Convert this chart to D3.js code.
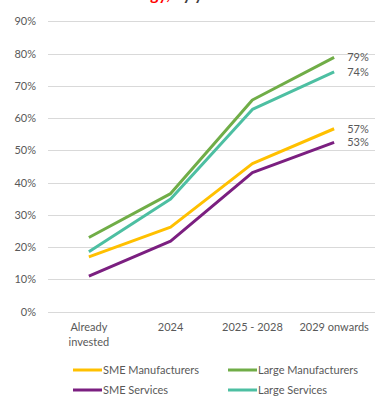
<!DOCTYPE html>
<html><head><meta charset="utf-8">
<script src="https://cdn.jsdelivr.net/npm/d3@7"></script>
<style>body{margin:0;background:#fff}svg{display:block}text{font-family:Lato,"Open Sans",sans-serif}</style>
</head><body><svg id="c" width="380" height="397"></svg>
<script>
const categories = ["Already\ninvested", "2024", "2025 - 2028", "2029 onwards"];
const yTicks = [0, 0.1, 0.2, 0.3, 0.4, 0.5, 0.6, 0.7, 0.8, 0.9];
const seriesNames = ["SME Manufacturers", "Large Manufacturers", "SME Services", "Large Services"];
const smeManufacturers = [0.17, 0.262, 0.459, 0.567];
const largeManufacturers = [0.23, 0.366, 0.656, 0.788];
const smeServices = [0.11, 0.219, 0.431, 0.525];
const largeServices = [0.186, 0.349, 0.627, 0.743];
const endLabels = ["57%", "79%", "53%", "74%"];
const colors = ["#FFC000", "#70AD47", "#7B1F80", "#4DBFA2"];
const seriesValues = [smeManufacturers, largeManufacturers, smeServices, largeServices];

const svg = d3.select("#c");
const x = d3.scaleBand().domain(categories).range([48, 375]);
const y = d3.scaleLinear().domain([0, 0.9]).range([311.7, 21.3]);

// clipped title (only descenders visible, as in the reference)
const t = svg.append("text").attr("x", 170).attr("y", -0.5).attr("font-size", 16).attr("font-weight", "bold");
t.append("tspan").attr("fill", "#FF0000").text("Technology,");
t.append("tspan").attr("fill", "#404040").text(" by year");
const redW = t.select("tspan").node().getComputedTextLength();
t.attr("x", 170 - redW);

// gridlines
svg.append("g").selectAll("line").data(yTicks).join("line")
  .attr("x1", 48).attr("x2", 375)
  .attr("y1", d => Math.round(y(d)) + 0.5).attr("y2", d => Math.round(y(d)) + 0.5)
  .attr("stroke", "#D9D9D9").attr("stroke-width", 1);

// y axis labels
const yAxis = svg.append("g").attr("transform", "translate(36,0)")
  .call(d3.axisLeft(y).tickValues(yTicks).tickFormat(d3.format(".0%")).tickSize(0).tickPadding(0));
yAxis.select(".domain").remove();
yAxis.selectAll("text").attr("fill", "#595959").attr("font-size", 11).attr("font-family", "Lato,sans-serif");

// x axis labels
const xAxis = svg.append("g").attr("transform", "translate(0,319)")
  .call(d3.axisBottom(x).tickSize(0).tickPadding(0).tickFormat(""));
xAxis.select(".domain").remove();
xAxis.selectAll(".tick").each(function(d) {
  const lines = d.split("\n");
  const tx = d3.select(this).append("text").attr("fill", "#595959").attr("font-size", 11)
    .attr("text-anchor", "middle").attr("font-family", "Lato,sans-serif");
  lines.forEach((l, i) => tx.append("tspan").attr("x", 0).attr("y", 12 + i * 15).text(l));
});

// lines
const line = d3.line().x((d, i) => x(categories[i]) + x.bandwidth() / 2).y(d => y(d));
seriesValues.forEach((vals, k) => {
  svg.append("path").datum(vals).attr("d", line).attr("fill", "none")
    .attr("stroke", colors[k]).attr("stroke-width", 3).attr("stroke-linejoin", "round");
  svg.append("text").attr("x", x(categories[3]) + x.bandwidth() / 2 + 13)
    .attr("y", y(vals[3])).attr("dy", "0.35em").attr("font-size", 11).attr("fill", "#595959")
    .text(endLabels[k]);
});

// legend
const legPos = [[73, 370], [228, 370], [73, 390], [228, 390]];
seriesNames.forEach((n, k) => {
  const [lx, ly] = legPos[k];
  svg.append("line").attr("x1", lx).attr("x2", lx + 29).attr("y1", ly).attr("y2", ly)
    .attr("stroke", colors[k]).attr("stroke-width", 3);
  svg.append("text").attr("x", lx + 30).attr("y", ly).attr("dy", "0.35em")
    .attr("font-size", 11).attr("fill", "#595959").text(n);
});
</script></body></html>
